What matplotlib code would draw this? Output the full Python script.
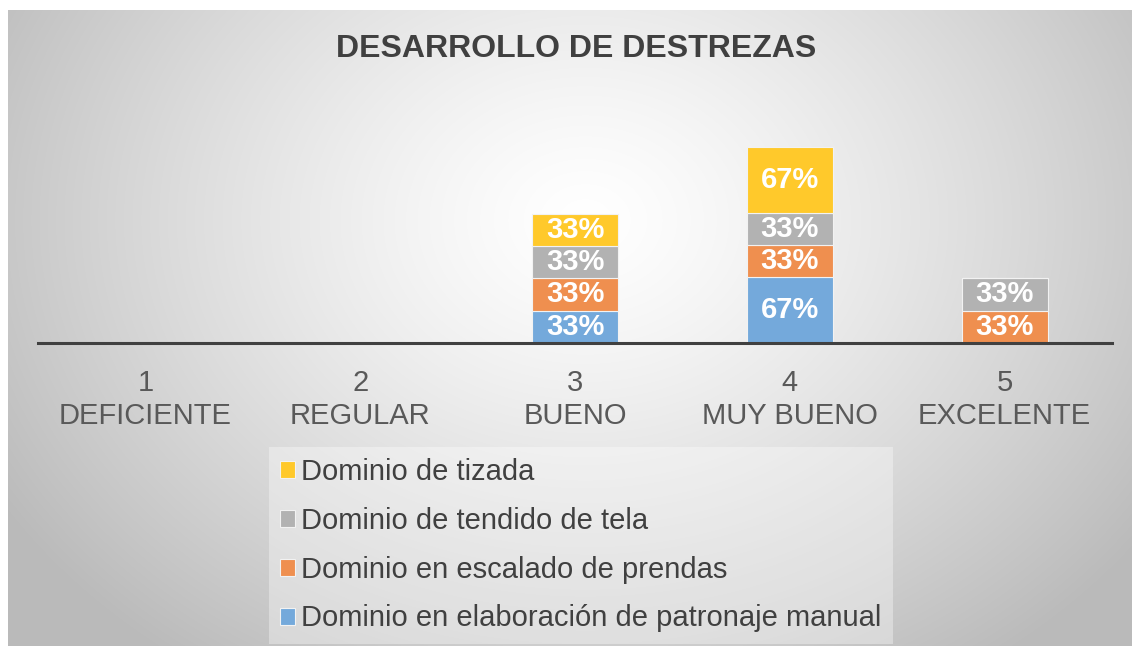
import numpy as np
import matplotlib
matplotlib.use("Agg")
import matplotlib.pyplot as plt
from matplotlib.patches import Patch

plt.rcParams['font.family'] = ['Liberation Sans', 'DejaVu Sans']

# data (percent of responses per level)
categories = ["1\nDEFICIENTE", "2\nREGULAR", "3\nBUENO", "4\nMUY BUENO", "5\nEXCELENTE"]
series_names = ["Dominio en elaboración de patronaje manual",
                "Dominio en escalado de prendas",
                "Dominio de tendido de tela",
                "Dominio de tizada"]
patronaje = [0, 0, 33, 67, 0]
escalado = [0, 0, 33, 33, 33]
tendido = [0, 0, 33, 33, 33]
tizada = [0, 0, 33, 67, 0]
colors = ["#74A9DB", "#EF8F4F", "#B2B2B2", "#FFC92B"]

W, H = 1132, 646
fig = plt.figure(figsize=(W / 100, H / 100), dpi=100)
fig.patch.set_facecolor("white")

# radial gradient background
bx0, by0 = 8, 10
gw, gh = W - bx0, H - by0
yy, xx = np.mgrid[0:gh, 0:gw]
cx, cy = 585 - bx0, 220 - by0
r = np.sqrt(((xx - cx) / 650.0) ** 2 + ((yy - cy) / 520.0) ** 2)
v = 255 - 64 * np.clip(r, 0, 1.05) ** 1.3
img = np.dstack([v, v, v]).astype(np.uint8)
ax_bg = fig.add_axes([bx0 / W, 0, gw / W, gh / H], zorder=-1)
ax_bg.imshow(img, aspect="auto", interpolation="bilinear")
ax_bg.axis("off")

ax = fig.add_axes([38 / W, 1 - 343 / H, (1112 - 38) / W, (343 - 100) / H])
ax.set_facecolor("none")

x = np.arange(len(categories))
bottom = np.zeros(len(categories))
for name, vals, col in zip(series_names, [patronaje, escalado, tendido, tizada], colors):
    bars = ax.bar(x, vals, width=0.4, bottom=bottom, color=col, label=name,
                  edgecolor="#F2F2F2", linewidth=0.8)
    labels = [f"{val}%" if val > 0 else "" for val in vals]
    ax.bar_label(bars, labels=labels, label_type="center", color="white",
                 fontsize=21, fontweight="bold")
    bottom += np.array(vals)

ax.set_xlim(-0.5, 4.5)
ax.set_ylim(0, 248)
ax.set_yticks([])
ax.set_xticks(x)
ax.set_xticklabels(categories, fontsize=21, color="#595959", linespacing=1.2)
ax.tick_params(axis="x", length=0, pad=19)
for s in ["top", "left", "right"]:
    ax.spines[s].set_visible(False)
ax.spines["bottom"].set_color("#404040")
ax.spines["bottom"].set_linewidth(2.2)

fig.text(576 / W, 1 - 49 / H, "DESARROLLO DE DESTREZAS", ha="center", va="center",
         fontsize=23, fontweight="bold", color="#404040")

handles = [Patch(facecolor=c, edgecolor="#F2F2F2", linewidth=0.8) for c in colors][::-1]
leg = fig.legend(handles, series_names[::-1], loc="upper left",
                 bbox_to_anchor=(254 / W, 1 - 432 / H), fontsize=21,
                 handlelength=0.52, handleheight=0.52, handletextpad=0.2,
                 labelspacing=0.71, borderpad=0.4, frameon=True, fancybox=False)
leg.get_frame().set_facecolor("white")
leg.get_frame().set_alpha(0.35)
leg.get_frame().set_edgecolor("none")
for t in leg.get_texts():
    t.set_color("#404040")

fig.savefig("out.png", dpi=100)
